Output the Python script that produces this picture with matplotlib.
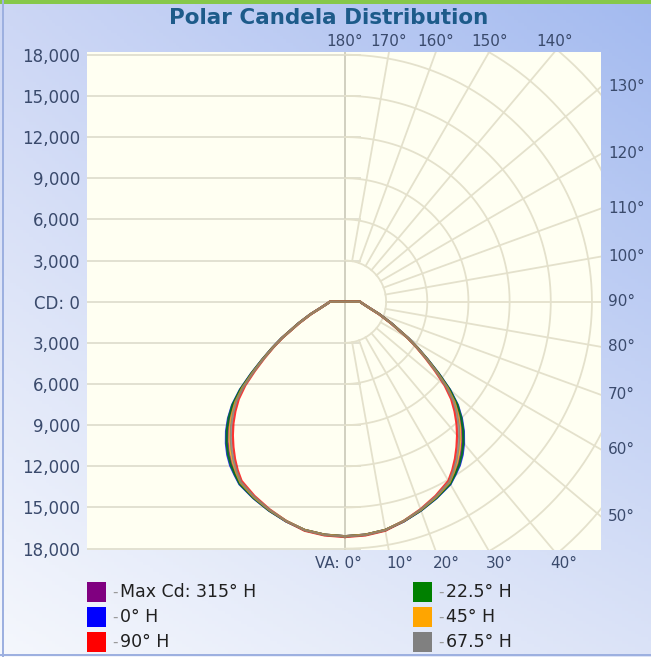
import numpy as np
import matplotlib
matplotlib.use('Agg')
import matplotlib.pyplot as plt
from matplotlib.patches import Rectangle

# %% data
# vertical angles (deg from nadir), intensities in cd for each horizontal plane
va = [0, 5, 10, 15, 20, 25, 30, 32.5, 35, 37.5, 40, 42.5, 45, 47.5, 50, 52.5, 55, 57.5, 60,
      65, 70, 75, 80, 85, 90, 180]
cd_max315 = [17100, 17050, 16900, 16560, 16180, 15760, 15300, 14870, 14420, 13900, 13310, 12640, 11880, 11020,
             9890, 8560, 7330, 6270, 5320, 3720, 2660, 1900, 1500, 1250, 1100, 0]
cd_0 = [17100, 17050, 16900, 16580, 16200, 15800, 15370, 14970, 14580, 14080, 13490, 12820, 12050, 11160,
        10000, 8630, 7370, 6310, 5350, 3750, 2680, 1910, 1500, 1250, 1100, 0]
cd_90 = [17150, 17100, 16950, 16550, 16100, 15620, 15080, 14560, 13980, 13360, 12720, 12040, 11300, 10500,
         9480, 8260, 7150, 6160, 5250, 3650, 2620, 1890, 1500, 1250, 1100, 0]
cd_22_5 = [17100, 17050, 16900, 16570, 16190, 15780, 15340, 14930, 14520, 14010, 13420, 12750, 11990, 11110,
           9960, 8600, 7350, 6290, 5340, 3740, 2670, 1900, 1500, 1250, 1100, 0]
cd_45 = [17100, 17050, 16900, 16550, 16150, 15720, 15230, 14760, 14250, 13690, 13080, 12410, 11660, 10840,
         9760, 8460, 7280, 6240, 5300, 3700, 2650, 1900, 1500, 1250, 1100, 0]
cd_67_5 = [17120, 17070, 16920, 16550, 16130, 15680, 15180, 14680, 14150, 13570, 12950, 12280, 11530, 10720,
           9650, 8380, 7230, 6210, 5280, 3680, 2640, 1900, 1500, 1250, 1100, 0]

series = [('Max Cd: 315° H', cd_max315, '#800080'),
          ('0° H', cd_0, '#0000ff'),
          ('90° H', cd_90, '#ff0000'),
          ('22.5° H', cd_22_5, '#008000'),
          ('45° H', cd_45, '#ffa500'),
          ('67.5° H', cd_67_5, '#808080')]
draw_order = [0, 1, 3, 2, 4, 5]

cd_ticks = [-18000, -15000, -12000, -9000, -6000, -3000, 0, 3000, 6000, 9000, 12000, 15000, 18000]
right_angles = [130, 120, 110, 100, 90, 80, 70, 60, 50]
top_angles = [180, 170, 160, 150, 140]
bottom_angles = [10, 20, 30, 40]

W, H = 651, 657
fig = plt.figure(figsize=(W / 100, H / 100), dpi=100)

# background gradient
bg = fig.add_axes([0, 0, 1, 1], zorder=-2)
u = np.linspace(0, 1, 200)[None, :, None]
v = np.linspace(0, 1, 200)[:, None, None]
tl = np.array([0.80, 0.84, 0.96]); tr = np.array([0.64, 0.73, 0.94])
bl = np.array([0.96, 0.97, 0.99]); br = np.array([0.86, 0.89, 0.97])
img = (1 - v) * ((1 - u) * tl + u * tr) + v * ((1 - u) * bl + u * br)
bg.imshow(img, aspect='auto', extent=[0, 1, 0, 1], origin='upper')
bg.set_xlim(0, 1); bg.set_ylim(0, 1)
bg.axis('off')
fig.add_artist(Rectangle((0, 1 - 4 / H), 1, 4 / H, transform=fig.transFigure, color='#86c84a', lw=0))
fig.add_artist(Rectangle((2 / W, 0), 2 / W, 1, transform=fig.transFigure, color='#9db0e0', lw=0))
fig.add_artist(Rectangle((0, 1 / H), 1, 2 / H, transform=fig.transFigure, color='#9db0e0', lw=0))

# main plot area
x0, x1, y0, y1 = 87, 601, 52, 550
ax = fig.add_axes([x0 / W, 1 - y1 / H, (x1 - x0) / W, (y1 - y0) / H])
ax.set_facecolor('#fffff2')
xmin, xmax, ymin, ymax = -18800, 18660, -18100, 18200
ax.set_xlim(xmin, xmax)
ax.set_ylim(ymin, ymax)
for s in ax.spines.values():
    s.set_visible(False)
ax.set_xticks([])
ax.set_yticks(cd_ticks)
ax.set_yticklabels(['CD: 0' if t == 0 else '{:,}'.format(abs(t)) for t in cd_ticks])
ax.tick_params(axis='y', length=0, pad=5, labelsize=12, labelcolor='#3a4a6c')

grid_c = '#e4e1cc'
# left half horizontal grid
ax.hlines(cd_ticks, xmin, 1200, colors='#dddbcc', lw=1.2, zorder=1)
ax.axvline(0, color='#c9c8b8', lw=1.2, zorder=1)
# polar grid on right half
th = np.radians(np.linspace(0, 180, 200))
for r in range(3000, 30000, 3000):
    ax.plot(r * np.sin(th), -r * np.cos(th), color=grid_c, lw=1.3, zorder=1)
for a in range(10, 180, 10):
    t = np.radians(a)
    ax.plot([3000 * np.sin(t), 30000 * np.sin(t)], [-3000 * np.cos(t), -30000 * np.cos(t)],
            color=grid_c, lw=1.3, zorder=1)

# curves
ang = np.radians(va)
for i in draw_order:
    name, cd, col = series[i]
    cd = np.array(cd, dtype=float)
    xr = cd * np.sin(ang)
    yr = -cd * np.cos(ang)
    xs = np.concatenate([xr, -xr[::-1]])
    ys = np.concatenate([yr, yr[::-1]])
    ax.plot(xs, ys, color=col, lw=1.7, alpha=0.8, zorder=3, solid_joinstyle='round')

# angle labels
lab_c = '#3a4a6c'
def edge_point(a):
    t = np.radians(a)
    dx, dy = np.sin(t), -np.cos(t)
    ks = []
    if dx > 1e-9:
        ks.append(xmax / dx)
    if dy > 1e-9:
        ks.append(ymax / dy)
    if dy < -1e-9:
        ks.append(ymin / dy)
    k = min(ks)
    return k * dx, k * dy

for a in right_angles:
    px, py = edge_point(a)
    ax.annotate('%d°' % a, (xmax, py), xytext=(5, 0), textcoords='offset points',
                ha='left', va='center', fontsize=11, color=lab_c, annotation_clip=False)
for a in top_angles:
    px, py = edge_point(a)
    ax.annotate('%d°' % a, (px, ymax), xytext=(0, 2), textcoords='offset points',
                ha='center', va='bottom', fontsize=11, color=lab_c, annotation_clip=False)
for a in bottom_angles:
    px, py = edge_point(a)
    ax.annotate('%d°' % a, (px, ymin), xytext=(-2, -4), textcoords='offset points',
                ha='left', va='top', fontsize=11, color=lab_c, annotation_clip=False)
ax.annotate('VA: 0°', (0, ymin), xytext=(12, -4), textcoords='offset points',
            ha='right', va='top', fontsize=11, color=lab_c, annotation_clip=False)

fig.text(329 / W, 1 - 18 / H, 'Polar Candela Distribution', ha='center', va='center',
         fontsize=15.5, fontweight='bold', color='#1d5b8a')

# legend
rows = [592, 617, 642]
cols = [(87, 120), (413, 446)]
for i, (name, cd, col) in enumerate(series):
    c = 0 if i < 3 else 1
    yc = rows[i % 3]
    sx, tx = cols[c]
    fig.add_artist(Rectangle((sx / W, 1 - (yc + 10) / H), 19 / W, 20 / H,
                             transform=fig.transFigure, color=col, lw=0))
    fig.text((tx - 8) / W, 1 - yc / H, '-', ha='left', va='center', fontsize=11, color='#9a9a9a')
    fig.text(tx / W, 1 - yc / H, name, ha='left', va='center', fontsize=12.5, color='#202020')

fig.savefig('out.png', dpi=100)
